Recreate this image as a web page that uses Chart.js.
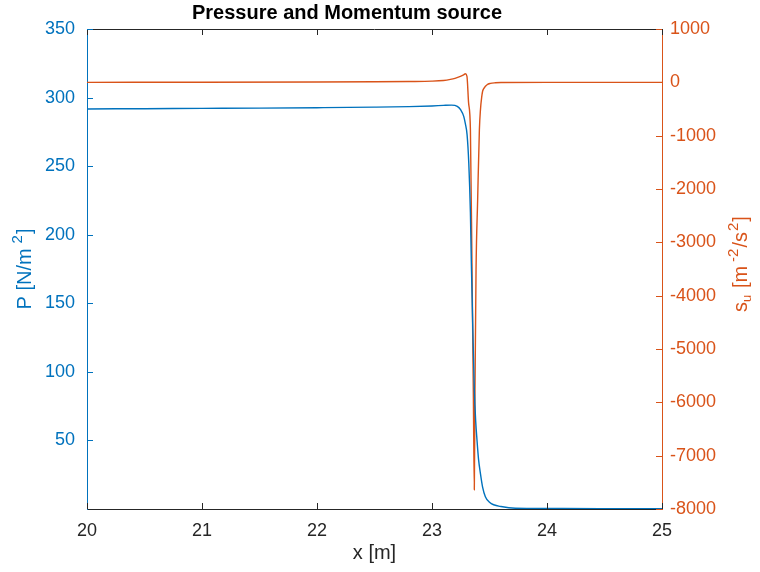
<!DOCTYPE html>
<html>
<head>
<meta charset="utf-8">
<script src="https://cdn.jsdelivr.net/npm/chart.js@4.4.0/dist/chart.umd.min.js"></script>
<style>
  body { margin: 0; background: #fff; }
  #wrap { width: 760px; height: 572px; }
</style>
</head>
<body>
<div id="wrap"><canvas id="grafico" width="760" height="572"></canvas></div>
<script>
// pressure along the duct
const xPressure = [20, 20.5, 21, 21.5, 22, 22.5, 22.8, 23.0, 23.1, 23.17, 23.22, 23.25, 23.276, 23.29,
  23.305, 23.32, 23.334, 23.342, 23.355, 23.368, 23.38, 23.391, 23.405, 23.42, 23.44, 23.464,
  23.5, 23.536, 23.6, 23.726, 24, 24.5, 25];
const pressure = [291.7, 291.9, 292.1, 292.3, 292.6, 293.0, 293.4, 293.9, 294.3, 294.5, 293.6, 291.0, 286.3, 281,
  273, 252, 216, 180, 131, 87, 64, 50.6, 36, 26.5, 16, 9.0,
  5.0, 3.1, 1.8, 0.6, 0.4, 0.3, 0.3];

// momentum source
const xSource = [20, 21, 22, 22.5, 22.8, 23.0, 23.1, 23.16, 23.2, 23.247, 23.275, 23.29, 23.304, 23.318,
  23.334, 23.348, 23.36, 23.368, 23.373, 23.383, 23.397, 23.412, 23.435, 23.456, 23.479, 23.508,
  23.55, 23.6, 24, 25];
const source = [0, 2, 6, 10, 15, 22, 35, 55, 75, 111, 140, 160, 110, -380,
  -890, -3510, -5950, -7640, -5950, -3510, -2200, -890, -230, -100, -45, -20,
  -8, -3, 0, 0];

const BLUE = '#0072BD';
const ORANGE = '#D95319';
const DARK = '#262626';
const FONT = '"Liberation Sans", Arial, Helvetica, sans-serif';

function pairs(xs, ys) {
  return xs.map((x, i) => ({ x: x, y: ys[i] }));
}

// y-axis titles with super/subscripts, drawn rotated
function richLabel(ctx, parts, cx, cy, color) {
  ctx.save();
  ctx.translate(cx, cy);
  ctx.rotate(-Math.PI / 2);
  ctx.fillStyle = color;
  ctx.textAlign = 'left';
  ctx.textBaseline = 'alphabetic';
  let w = 0;
  parts.forEach(p => {
    ctx.font = p.size + 'px ' + FONT;
    w += (p.gap || 0) + ctx.measureText(p.t).width;
  });
  let x = -w / 2;
  parts.forEach(p => {
    ctx.font = p.size + 'px ' + FONT;
    x += p.gap || 0;
    ctx.fillText(p.t, x, -(p.rise || 0));
    x += ctx.measureText(p.t).width;
  });
  ctx.restore();
}

const extras = {
  id: 'extras',
  afterDraw(chart) {
    const { ctx, chartArea: a, scales } = chart;
    const len = 6;
    ctx.save();
    ctx.lineWidth = 1;
    function seg(x1, y1, x2, y2, c) {
      ctx.strokeStyle = c;
      ctx.beginPath(); ctx.moveTo(x1, y1); ctx.lineTo(x2, y2); ctx.stroke();
    }
    // box top
    seg(a.left, a.top + 0.5, a.right, a.top + 0.5, DARK);
    // inward ticks
    scales.x.ticks.forEach(t => {
      const px = Math.round(scales.x.getPixelForValue(t.value)) + 0.5;
      seg(px, a.bottom, px, a.bottom - len, DARK);
      seg(px, a.top, px, a.top + len, DARK);
    });
    scales.y.ticks.forEach(t => {
      if (t.value === 0) return;
      const py = Math.round(scales.y.getPixelForValue(t.value)) + 0.5;
      seg(a.left, py, a.left + len, py, BLUE);
    });
    scales.y1.ticks.forEach(t => {
      const py = Math.round(scales.y1.getPixelForValue(t.value)) + 0.5;
      seg(a.right, py, a.right - len, py, ORANGE);
    });

    // title
    ctx.fillStyle = '#000';
    ctx.font = 'bold 20px ' + FONT;
    ctx.textAlign = 'center';
    ctx.textBaseline = 'middle';
    ctx.fillText('Pressure and Momentum source', 347, 13);

    const mid = (a.top + a.bottom) / 2;
    richLabel(ctx, [
      { t: 'P [N/m', size: 20 },
      { t: '2', size: 15, gap: 5, rise: 9 },
      { t: ']', size: 20, gap: 1 }
    ], 31, mid, BLUE);
    richLabel(ctx, [
      { t: 's', size: 20 },
      { t: 'u', size: 13, rise: -4 },
      { t: ' [m', size: 20, gap: 1 },
      { t: '-2', size: 15, gap: 4, rise: 9 },
      { t: '/s', size: 20, gap: 1 },
      { t: '2', size: 15, gap: 1, rise: 9 },
      { t: ']', size: 20, gap: 1 }
    ], 747, mid - 5, ORANGE);
    ctx.restore();
  }
};

new Chart(document.getElementById('grafico'), {
  type: 'line',
  data: {
    datasets: [
      {
        label: 'P',
        data: pairs(xPressure, pressure),
        yAxisID: 'y',
        borderColor: BLUE,
        borderWidth: 1.4,
        pointRadius: 0,
        cubicInterpolationMode: 'monotone',
        fill: false
      },
      {
        label: 's',
        data: pairs(xSource, source),
        yAxisID: 'y1',
        borderColor: ORANGE,
        borderWidth: 1.4,
        pointRadius: 0,
        cubicInterpolationMode: 'monotone',
        fill: false
      }
    ]
  },
  options: {
    responsive: false,
    animation: false,
    layout: { padding: { top: 29, left: 0, right: 0, bottom: 0 } },
    plugins: {
      legend: { display: false },
      title: { display: false },
      tooltip: { enabled: false }
    },
    scales: {
      x: {
        type: 'linear',
        min: 20,
        max: 25,
        afterFit: s => { s.height = 63; },
        grid: { display: false, drawTicks: false },
        border: { display: true, color: DARK, width: 1 },
        ticks: { stepSize: 1, color: DARK, padding: 11, font: { family: FONT, size: 18 }, callback: v => String(v) },
        title: { display: true, text: 'x [m]', color: DARK, padding: { top: 0, bottom: 7 }, font: { family: FONT, size: 20 } }
      },
      y: {
        position: 'left',
        min: 0,
        max: 350,
        afterFit: s => { s.width = 87; },
        grid: { display: false, drawTicks: false },
        border: { display: true, color: BLUE, width: 1 },
        ticks: {
          stepSize: 50,
          color: BLUE,
          padding: 12,
          font: { family: FONT, size: 18 },
          callback: v => (v === 0 ? '' : String(v))
        }
      },
      y1: {
        position: 'right',
        min: -8000,
        max: 1000,
        afterFit: s => { s.width = 98; },
        grid: { display: false, drawTicks: false },
        border: { display: true, color: ORANGE, width: 1 },
        ticks: { stepSize: 1000, color: ORANGE, padding: 8, font: { family: FONT, size: 18 }, callback: v => String(v) }
      }
    }
  },
  plugins: [extras]
});
</script>
</body>
</html>
